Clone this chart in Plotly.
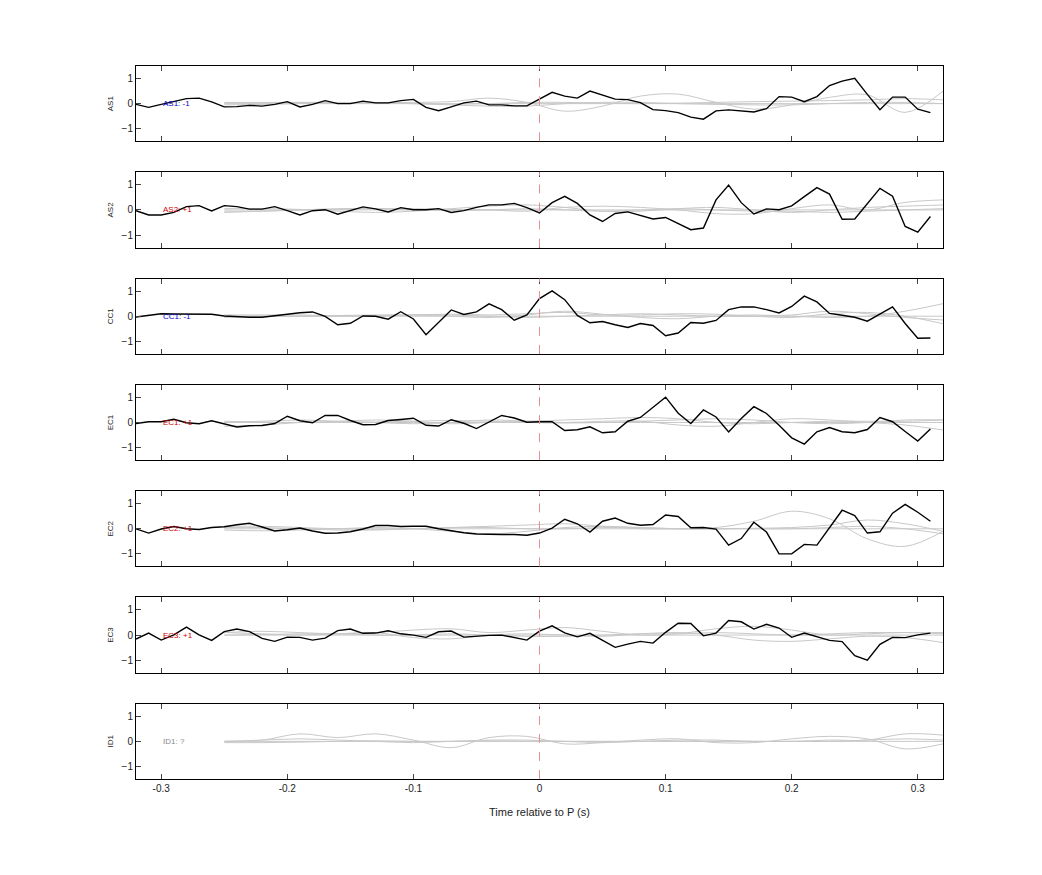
import plotly.graph_objects as go
from plotly.subplots import make_subplots

channels = ["AS1", "AS2", "CC1", "EC1", "EC2", "EC3", "ID1"]
labels = ["AS1: -1", "AS2: +1", "CC1: -1", "EC1: +1", "EC2: +1", "EC3: +1", "ID1: ?"]
label_colors = ["#0000cc", "#cc0000", "#0000cc", "#cc0000", "#cc0000", "#cc0000", "#888888"]

t_black = [round(-0.32 + 0.01 * i, 2) for i in range(64)]
black = {
    "AS1": [-0.03, -0.15, -0.03, 0.07, 0.2, 0.22, 0.07, -0.13, -0.12, -0.07, -0.1, -0.03, 0.08, -0.13, -0.03, 0.12,
            0, 0, 0.1, 0.03, 0.03, 0.12, 0.17, -0.15, -0.28, -0.13, 0.03, 0.1, -0.05, -0.05, -0.09, -0.09,
            0.17, 0.45, 0.3, 0.22, 0.5, 0.35, 0.18, 0.16, 0.04, -0.24, -0.28, -0.36, -0.54, -0.62, -0.29, -0.25,
            -0.29, -0.33, -0.2, 0.28, 0.26, 0.08, 0.28, 0.72, 0.9, 1.01, 0.37, -0.24, 0.26, 0.26, -0.22, -0.36],
    "AS2": [-0.03, -0.2, -0.2, -0.1, 0.13, 0.17, -0.04, 0.17, 0.13, 0.03, 0.03, 0.13, -0.03, -0.2, -0.03, 0.01,
            -0.17, -0.03, 0.12, 0.04, -0.08, 0.09, 0.01, 0.01, 0.05, -0.1, -0.03, 0.1, 0.2, 0.2, 0.26, 0.09,
            -0.12, 0.29, 0.54, 0.26, -0.2, -0.46, -0.14, -0.08, -0.22, -0.36, -0.3, -0.53, -0.79, -0.72, 0.4, 0.99,
            0.29, -0.16, 0.04, 0.01, 0.16, 0.53, 0.89, 0.63, -0.37, -0.36, 0.24, 0.86, 0.55, -0.66, -0.89, -0.26],
    "CC1": [-0.03, 0.04, 0.1, 0.09, 0.09, 0.1, 0.08, 0.01, -0.03, -0.04, -0.04, 0.01, 0.08, 0.14, 0.17, -0.01,
            -0.34, -0.28, 0.01, 0, -0.12, 0.18, -0.11, -0.74, -0.24, 0.25, 0.07, 0.17, 0.49, 0.26, -0.16, 0.05,
            0.7, 1.01, 0.66, 0.03, -0.26, -0.21, -0.34, -0.45, -0.29, -0.37, -0.78, -0.67, -0.25, -0.28, -0.17, 0.26,
            0.37, 0.37, 0.26, 0.13, 0.39, 0.8, 0.57, 0.11, 0.04, -0.04, -0.2, 0.08, 0.37, -0.29, -0.88, -0.87],
    "EC1": [-0.04, 0.03, 0.03, 0.13, -0.01, -0.05, 0.07, -0.05, -0.18, -0.13, -0.12, -0.04, 0.25, 0.07, -0.01, 0.28,
            0.28, 0.08, -0.09, -0.08, 0.08, 0.12, 0.17, -0.11, -0.14, 0.11, -0.03, -0.24, 0.01, 0.28, 0.18, 0.01,
            0.03, 0.03, -0.32, -0.29, -0.17, -0.41, -0.37, 0.05, 0.2, 0.62, 1.01, 0.37, -0.04, 0.5, 0.22, -0.38,
            0.16, 0.63, 0.36, -0.11, -0.61, -0.86, -0.37, -0.2, -0.37, -0.41, -0.28, 0.2, 0.03, -0.36, -0.74, -0.26],
    "EC2": [0, -0.17, -0.01, 0.09, 0, -0.03, 0.05, 0.08, 0.16, 0.22, 0.07, -0.09, -0.04, 0.03, -0.09, -0.18,
            -0.17, -0.12, -0.01, 0.13, 0.13, 0.09, 0.1, 0.1, 0, -0.09, -0.16, -0.21, -0.23, -0.23, -0.23, -0.26,
            -0.17, 0.03, 0.38, 0.2, -0.13, 0.3, 0.43, 0.22, 0.14, 0.17, 0.55, 0.49, 0.04, 0.05, -0.01, -0.65,
            -0.39, 0.26, -0.13, -1.0, -1.0, -0.62, -0.65, 0.03, 0.74, 0.53, -0.17, -0.12, 0.62, 0.97, 0.66, 0.3],
    "EC3": [-0.16, 0.08, -0.2, 0.01, 0.32, 0.01, -0.21, 0.14, 0.24, 0.14, -0.13, -0.25, -0.08, -0.09, -0.2, -0.12,
            0.18, 0.24, 0.07, 0.08, 0.17, 0.05, 0, -0.09, 0.13, 0.16, -0.08, -0.03, -0.01, 0, -0.09, -0.2,
            0.16, 0.37, 0.09, -0.07, 0.07, -0.22, -0.49, -0.36, -0.25, -0.32, 0.11, 0.47, 0.46, -0.03, 0.08, 0.58,
            0.53, 0.24, 0.43, 0.28, -0.09, 0.08, -0.05, -0.21, -0.26, -0.82, -1.0, -0.37, -0.09, -0.1, 0.01, 0.08],
}

t_gray = [round(-0.25 + 0.03 * i, 2) for i in range(20)]
gray = {
    "AS1": [[0.05, 0.05, 0.05, 0.04, 0.04, 0.05, 0.08, 0.22, 0.05, -0.3, -0.1, 0.3, 0.38, 0.05, -0.22, -0.05, 0.25, 0.35, -0.35, 0.5],
            [-0.05, -0.03, 0, 0.02, 0.02, 0, -0.02, 0, 0.05, 0.05, 0.02, 0, 0.02, 0.05, 0.08, 0.1, 0.12, 0.15, 0.2, 0.15],
            [0.02, 0.03, 0.05, 0.05, 0.03, 0, -0.05, -0.1, -0.1, 0, 0.05, 0.05, 0, -0.03, -0.05, -0.05, 0, 0.05, 0.05, 0.0]],
    "AS2": [[-0.1, -0.05, 0, 0.02, 0.05, 0.05, 0.02, 0, -0.05, 0.1, 0.15, 0.1, 0, -0.15, -0.15, 0.05, 0.2, 0.0, 0.3, 0.4],
            [0.05, 0.05, 0.02, -0.05, -0.1, -0.05, 0.05, 0.15, 0.2, 0.1, -0.05, -0.05, 0.05, 0.1, 0, -0.1, 0, 0.1, 0.15, 0.2],
            [-0.05, -0.05, 0, 0.05, 0.05, 0, -0.02, 0, 0.05, 0, -0.05, 0, 0.05, 0, -0.05, -0.05, -0.1, -0.05, 0, 0.05]],
    "CC1": [[0.05, 0.05, 0.05, 0.02, 0, 0.05, 0.08, 0.05, 0.1, 0.15, 0.05, 0.05, 0.1, 0.08, 0, -0.05, 0.1, 0.15, 0, -0.3],
            [-0.05, 0, 0, 0.03, 0.05, 0.05, 0, -0.05, 0.05, 0.2, 0.08, -0.05, -0.1, 0, 0.05, 0, -0.05, 0, 0.2, 0.5],
            [0, 0, 0, 0, 0.02, 0.05, 0.05, 0, -0.05, 0, 0.05, 0.1, 0.05, 0, 0, 0.05, 0.2, 0.1, -0.05, -0.15]],
    "EC1": [[-0.15, -0.1, 0, 0.05, 0.1, 0.05, -0.05, 0, 0.05, 0.1, 0.15, 0.2, 0.15, 0, -0.05, 0, 0.05, 0.05, 0.05, 0.1],
            [0, 0.05, 0.1, 0.05, 0, -0.05, 0, 0.1, 0.05, 0, 0.05, 0.05, -0.1, -0.15, 0, 0.15, 0.1, 0, -0.1, -0.3],
            [0.05, 0.02, 0, 0, 0.02, 0.05, 0.08, 0.05, 0, -0.02, 0, 0.05, 0.1, 0.15, 0.1, 0, -0.05, 0, 0.1, 0.1]],
    "EC2": [[0.05, 0.05, 0, -0.05, -0.05, 0, 0.05, 0.1, 0.15, 0.2, 0.1, 0, 0, 0.05, 0.3, 0.7, 0.4, -0.4, -0.7, -0.1],
            [-0.05, -0.08, -0.05, 0, 0.05, 0, -0.1, -0.2, -0.1, 0.05, 0.1, 0.05, 0, 0, 0.02, 0.05, 0.15, 0.35, 0.2, -0.1],
            [0.1, 0.1, 0.05, 0, -0.02, 0, 0.05, 0.05, 0, 0, 0.05, 0.05, 0, 0, 0, 0, 0.05, 0.1, 0, -0.2]],
    "EC3": [[0.1, 0.15, 0.1, 0.05, 0.1, 0.2, 0.25, 0.1, 0.2, 0.3, 0.15, 0, 0.05, 0.25, 0.35, 0.2, 0, 0.05, 0.1, 0.05],
            [0.1, 0.05, 0, 0.05, 0.1, -0.1, -0.15, 0, 0.05, 0, -0.05, 0.05, 0.1, 0, -0.2, -0.25, -0.15, -0.05, -0.1, -0.3],
            [0, 0.02, 0.05, 0.05, 0, 0, 0.05, 0, -0.05, -0.05, 0, 0.05, 0.05, 0.1, 0.05, 0, 0.05, 0.1, 0.1, 0.1]],
    "ID1": [[0, 0.05, 0.3, 0.15, 0.3, 0.05, -0.25, 0.15, 0.2, -0.1, -0.05, 0.05, 0.1, -0.05, -0.05, 0.1, 0.2, 0.1, -0.3, -0.1],
            [0, 0.05, 0.1, 0.05, 0, -0.05, 0, 0.05, 0.05, 0, -0.05, 0, 0.05, 0.05, 0, 0, 0.05, 0.05, 0.3, 0.25],
            [-0.05, -0.05, -0.03, 0, 0.02, 0, 0, 0.02, 0, 0, 0, 0, 0, 0, 0, 0, 0, 0.05, 0.1, 0.05]],
}
flat = [0.0] * 20

x_ticks = [-0.3, -0.2, -0.1, 0, 0.1, 0.2, 0.3]
x_ticktext = ["-0.3", "-0.2", "-0.1", "0", "0.1", "0.2", "0.3"]
y_ticks = [-1, 0, 1]

fig = make_subplots(rows=7, cols=1, shared_xaxes=True, vertical_spacing=0.0435)
font = "Liberation Sans, Arial, sans-serif"

for i, ch in enumerate(channels):
    r = i + 1
    for g in gray[ch] + [flat]:
        fig.add_trace(go.Scatter(x=t_gray, y=g, mode="lines", line=dict(color="#c8c8c8", width=1, shape="spline"),
                                 showlegend=False, hoverinfo="skip"), row=r, col=1)
    if ch in black:
        fig.add_trace(go.Scatter(x=t_black, y=black[ch], mode="lines", line=dict(color="black", width=1.4),
                                 showlegend=False), row=r, col=1)
    fig.add_vline(x=0, line=dict(color="#e89090", width=1, dash="dash"), row=r, col=1)
    fig.add_annotation(x=-0.3, y=0, text=labels[i], showarrow=False, xanchor="left",
                       font=dict(size=8, color=label_colors[i], family=font), row=r, col=1)
    fig.update_yaxes(range=[-1.5, 1.5], tickvals=y_ticks, ticks="inside", ticklen=5, showline=True, mirror=True,
                     linecolor="black", showgrid=False, zeroline=False,
                     title=dict(text=ch, font=dict(size=8, family=font, color="#222"), standoff=6),
                     tickfont=dict(size=10, family=font), row=r, col=1)
    fig.update_xaxes(range=[-0.32, 0.32], tickvals=x_ticks, ticktext=x_ticktext, ticks="inside", ticklen=5,
                     showline=True, mirror="ticks", linecolor="black", showgrid=False, zeroline=False,
                     tickfont=dict(size=10, family=font), row=r, col=1)

fig.update_xaxes(title=dict(text="Time relative to P (s)", font=dict(size=11, family=font)), row=7, col=1)
fig.update_layout(width=1042, height=875, margin=dict(l=128, r=107, t=58, b=104),
                  plot_bgcolor="white", paper_bgcolor="white", font=dict(family=font, color="#222"))
fig.write_html("out.html")
